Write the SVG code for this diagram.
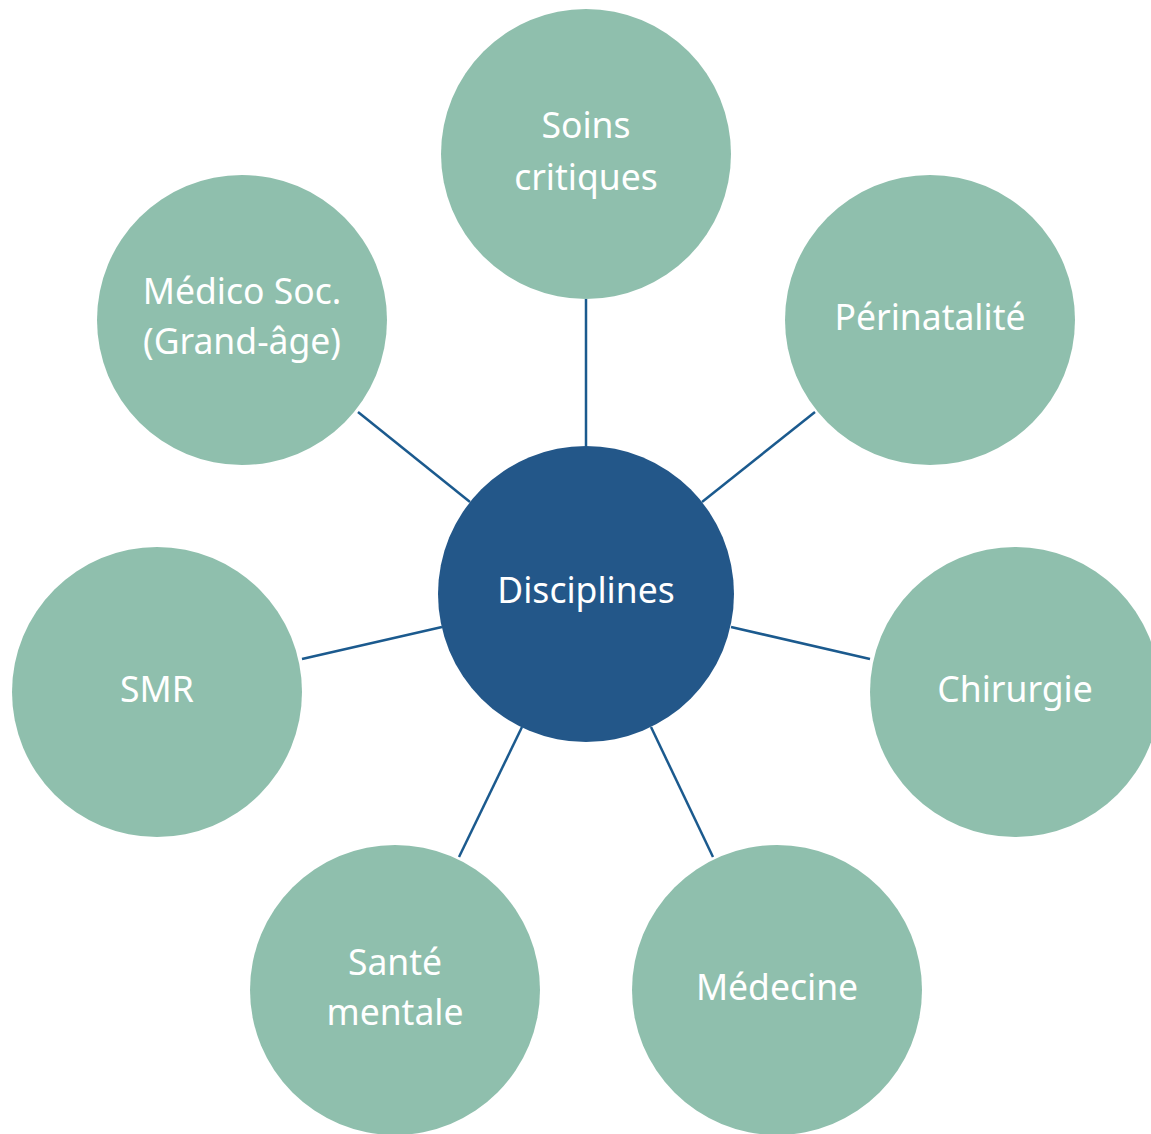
<svg xmlns="http://www.w3.org/2000/svg" width="1151" height="1134" viewBox="0 0 1151 1134">
<style>
.sat{fill:#8FBFAD}
.hub{fill:#235789}
.lbl{font-family:"Noto Sans","Open Sans","Liberation Sans",sans-serif;font-size:35.5px;fill:#FFFFFF;text-anchor:middle}
.con line{stroke:#1B5A8E;stroke-width:2.5}
</style>
<rect width="1151" height="1134" fill="#FFFFFF"/>
<g id="connectors" class="con">
<line x1="586" y1="299" x2="586" y2="446"/>
<line x1="815" y1="412" x2="702" y2="502"/>
<line x1="870" y1="659" x2="731" y2="627"/>
<line x1="713" y1="857" x2="651" y2="727"/>
<line x1="459" y1="857" x2="522" y2="727"/>
<line x1="302" y1="659" x2="442" y2="627"/>
<line x1="358" y1="412" x2="470" y2="502"/>
</g>
<g id="disciplines">
<circle class="hub" cx="586" cy="594" r="148"/>
<text class="lbl" x="586" y="603">Disciplines</text>
</g>
<g id="soins-critiques">
<circle class="sat" cx="586" cy="154" r="145"/>
<text class="lbl" x="586" y="138">Soins</text>
<text class="lbl" x="586" y="190">critiques</text>
</g>
<g id="perinatalite">
<circle class="sat" cx="930" cy="320" r="145"/>
<text class="lbl" x="930" y="330">Périnatalité</text>
</g>
<g id="chirurgie">
<circle class="sat" cx="1015" cy="692" r="145"/>
<text class="lbl" x="1015" y="702">Chirurgie</text>
</g>
<g id="medecine">
<circle class="sat" cx="777" cy="990" r="145"/>
<text class="lbl" x="777" y="1000">Médecine</text>
</g>
<g id="sante-mentale">
<circle class="sat" cx="395" cy="990" r="145"/>
<text class="lbl" x="395" y="975">Santé</text>
<text class="lbl" x="395" y="1025">mentale</text>
</g>
<g id="smr">
<circle class="sat" cx="157" cy="692" r="145"/>
<text class="lbl" x="157" y="702">SMR</text>
</g>
<g id="medico-soc">
<circle class="sat" cx="242" cy="320" r="145"/>
<text class="lbl" x="242" y="304">Médico Soc.</text>
<text class="lbl" x="242" y="354">(Grand-âge)</text>
</g>
</svg>
